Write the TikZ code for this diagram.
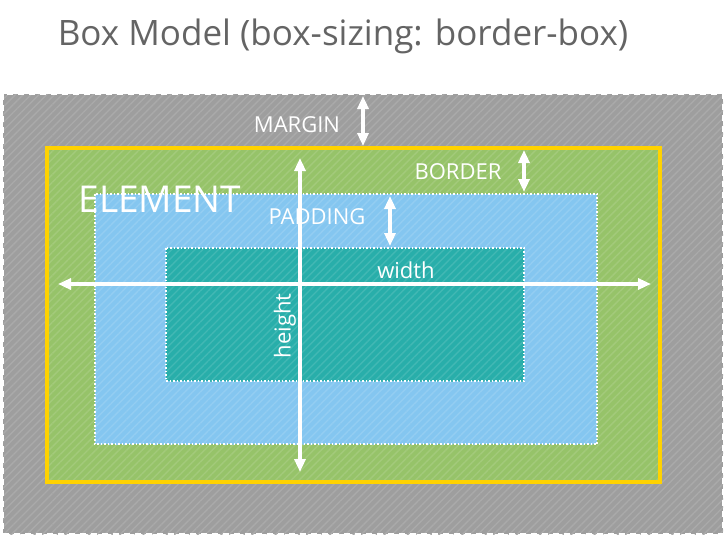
\documentclass[tikz,border=0pt]{standalone}
\usepackage{fontspec}
\setmainfont{Open Sans}
\usetikzlibrary{arrows.meta,patterns.meta}
\definecolor{margingray}{RGB}{158,158,158}
\definecolor{bordergreen}{RGB}{150,195,105}
\definecolor{paddingblue}{RGB}{132,198,240}
\definecolor{contentteal}{RGB}{40,174,170}
\definecolor{borderyellow}{RGB}{255,210,0}
\definecolor{titlegray}{RGB}{100,100,100}
\tikzset{
    hatch/.style={pattern={Lines[angle=45,distance=5.5pt,line width=1.4pt]}, pattern color=#1!88!white},
    sizearrow/.style={white, line width=3.5pt, {Triangle[width=11pt,length=13pt]}-{Triangle[width=11pt,length=13pt]}},
    boxlabel/.style={white, font=\fontsize{22}{22}\selectfont},
    edgedots/.style={white, line width=1.2pt, dash pattern=on 1.5pt off 2pt},
}

\begin{document}
\begin{tikzpicture}[x=1pt,y=-1pt]
    \useasboundingbox (0,0) rectangle (726,538);
    \node[titlegray, font=\fontsize{35}{35}\selectfont] (title) at (343,36) {Box Model (box-sizing: border-box)};
    % margin
    \fill[margingray] (3,94) rectangle (723,534);
    \fill[hatch=margingray] (3,94) rectangle (723,534);
    \draw[white, line width=2pt, dash pattern=on 6pt off 5pt] (3,94) rectangle (723,534);
    % border
    \fill[bordergreen] (47,148) rectangle (660,482);
    \fill[hatch=bordergreen] (47,148) rectangle (660,482);
    \draw[borderyellow, line width=3.5pt] (47,148) rectangle (660,482);
    % padding
    \fill[paddingblue] (95,194) rectangle (597,444);
    \fill[hatch=paddingblue] (95,194) rectangle (597,444);
    \draw[edgedots] (95,194) rectangle (597,444);
    % content
    \fill[contentteal] (166,248) rectangle (524,381);
    \fill[hatch=contentteal] (166,248) rectangle (524,381);
    \draw[edgedots] (166,248) rectangle (524,381);

    \coordinate (marginTop) at (363,96);
    \coordinate (borderTop) at (363,146);
    \coordinate (borderIn) at (524,150);
    \coordinate (paddingOut) at (524,192);
    \coordinate (paddingIn) at (390,196);
    \coordinate (contentTop) at (390,246);
    \coordinate (widthL) at (58,284);
    \coordinate (widthR) at (651,284);
    \coordinate (heightT) at (300,158);
    \coordinate (heightB) at (300,472);

    \draw[sizearrow] (marginTop) -- (borderTop);
    \draw[sizearrow] (borderIn) -- (paddingOut);
    \draw[sizearrow] (paddingIn) -- (contentTop);
    \draw[sizearrow] (widthL) -- (widthR);
    \draw[sizearrow] (heightT) -- (heightB);

    \node[boxlabel] (marginlabel) at (297,125) {MARGIN};
    \node[boxlabel] (borderlabel) at (458,172) {BORDER};
    \node[boxlabel] (paddinglabel) at (317,217) {PADDING};
    \node[white, font=\fontsize{37}{37}\selectfont] (elementlabel) at (160,199) {ELEMENT};
    \node[boxlabel] (widthlabel) at (406,270) {width};
    \node[boxlabel, rotate=90] (heightlabel) at (285,326) {height};
\end{tikzpicture}
\end{document}
